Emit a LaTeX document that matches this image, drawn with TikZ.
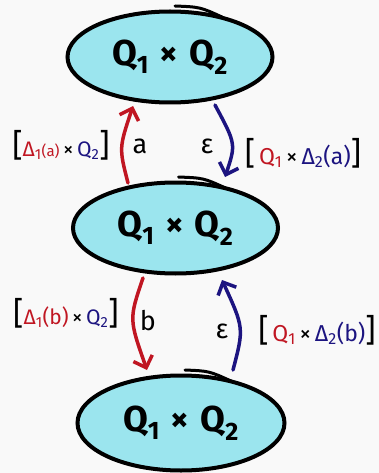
\documentclass[tikz,border=0pt]{standalone}
\usepackage{fontspec}
\setmainfont{Fira Sans}
\usetikzlibrary{shapes.geometric,arrows.meta,calc}
\definecolor{bg}{RGB}{249,249,249}
\definecolor{fillc}{RGB}{155,229,238}
\definecolor{myred}{RGB}{192,22,34}
\definecolor{myblue}{RGB}{28,20,128}
\newcommand{\bigbr}[1]{{\fontsize{32}{32}\selectfont #1}}
\newcommand{\qq}{Q\textsubscript{1}\hspace{0.3em}×\hspace{0.3em}Q\textsubscript{2}}
\tikzset{
  state/.style={ellipse, draw=black, line width=4pt, fill=fillc, inner sep=0pt,
    minimum width=205pt, minimum height=91pt, font=\fontsize{36}{36}\selectfont\bfseries},
  overshoot/.style={draw=black, line width=3pt, line cap=round},
  redarrow/.style={draw=myred, line width=3.5pt, line cap=round,
    -{Straight Barb[length=10pt,width=20pt]}},
  bluearrow/.style={draw=myblue, line width=3.5pt, line cap=round,
    -{Straight Barb[length=10pt,width=20pt]}},
  lbl/.style={font=\fontsize{21}{21}\selectfont, inner sep=0pt},
  rlbl/.style={font=\fontsize{23}{23}\selectfont, inner sep=0pt},
  arrlbl/.style={font=\fontsize{27}{27}\selectfont, inner sep=0pt},
}
\begin{document}
\begin{tikzpicture}[x=1pt,y=-1pt]
\fill[bg] (0,0) rectangle (379,473);
\useasboundingbox (0,0) rectangle (379,473);

\node[state] (e1) at (170,57) {\qq};
\node[state] (e2) at (175.5,228) {\qq};
\node[state, minimum width=207pt, minimum height=95pt] (e3) at (181,423) {\qq};

% sketch overshoot strokes
\draw[overshoot] ($(e1.center)+(5,-51)$) .. controls ($(e1.center)+(30,-50)$) .. ($(e1.center)+(52,-40)$);
\draw[overshoot] ($(e2.center)+(3,-51)$) .. controls ($(e2.center)+(28,-50)$) .. ($(e2.center)+(50,-40)$);
\draw[overshoot] ($(e3.center)+(4,-53)$) .. controls ($(e3.center)+(28,-52)$) .. ($(e3.center)+(50,-42)$);

% connectors
\draw[redarrow] ($(e2.center)+(-47.5,-45)$) .. controls (119,148) .. ($(e1.center)+(-37,49)$);
\draw[bluearrow] ($(e1.center)+(45,48)$) .. controls (236,144) .. ($(e2.center)+(49.5,-51)$);
\draw[redarrow] ($(e2.center)+(-32.5,50)$) .. controls (129,319) .. ($(e3.center)+(-34,-53)$);
\draw[bluearrow] ($(e3.center)+(52,-53)$) .. controls (244,328) .. ($(e2.center)+(46.5,52)$);

% arrow labels
\node[arrlbl] (la) at (140,146) {a};
\node[arrlbl] (le1) at (207,146) {ε};
\node[arrlbl] (lb) at (148,321) {b};
\node[arrlbl] (le2) at (222,331) {ε};

% bracket labels
\node[lbl] (l1) at (61,145) {\bigbr{[}\textcolor{myred}{Δ\textsubscript{1}{\fontsize{15}{15}\selectfont(a)}}\,×\,\textcolor{myblue}{Q\textsubscript{2}}\bigbr{]}};
\node[rlbl] (r1) at (303,153) {\bigbr{[}\,\textcolor{myred}{Q\textsubscript{1}}\,×\,\textcolor{myblue}{Δ\textsubscript{2}(a)}\bigbr{]}};
\node[lbl] (l2) at (66,313) {\bigbr{[}\textcolor{myred}{Δ\textsubscript{1}(b)}\,×\,\textcolor{myblue}{Q\textsubscript{2}}\bigbr{]}};
\node[rlbl] (r2) at (317,330) {\bigbr{[}\,\textcolor{myred}{Q\textsubscript{1}}\,×\,\textcolor{myblue}{Δ\textsubscript{2}(b)}\bigbr{]}};
\end{tikzpicture}
\end{document}
